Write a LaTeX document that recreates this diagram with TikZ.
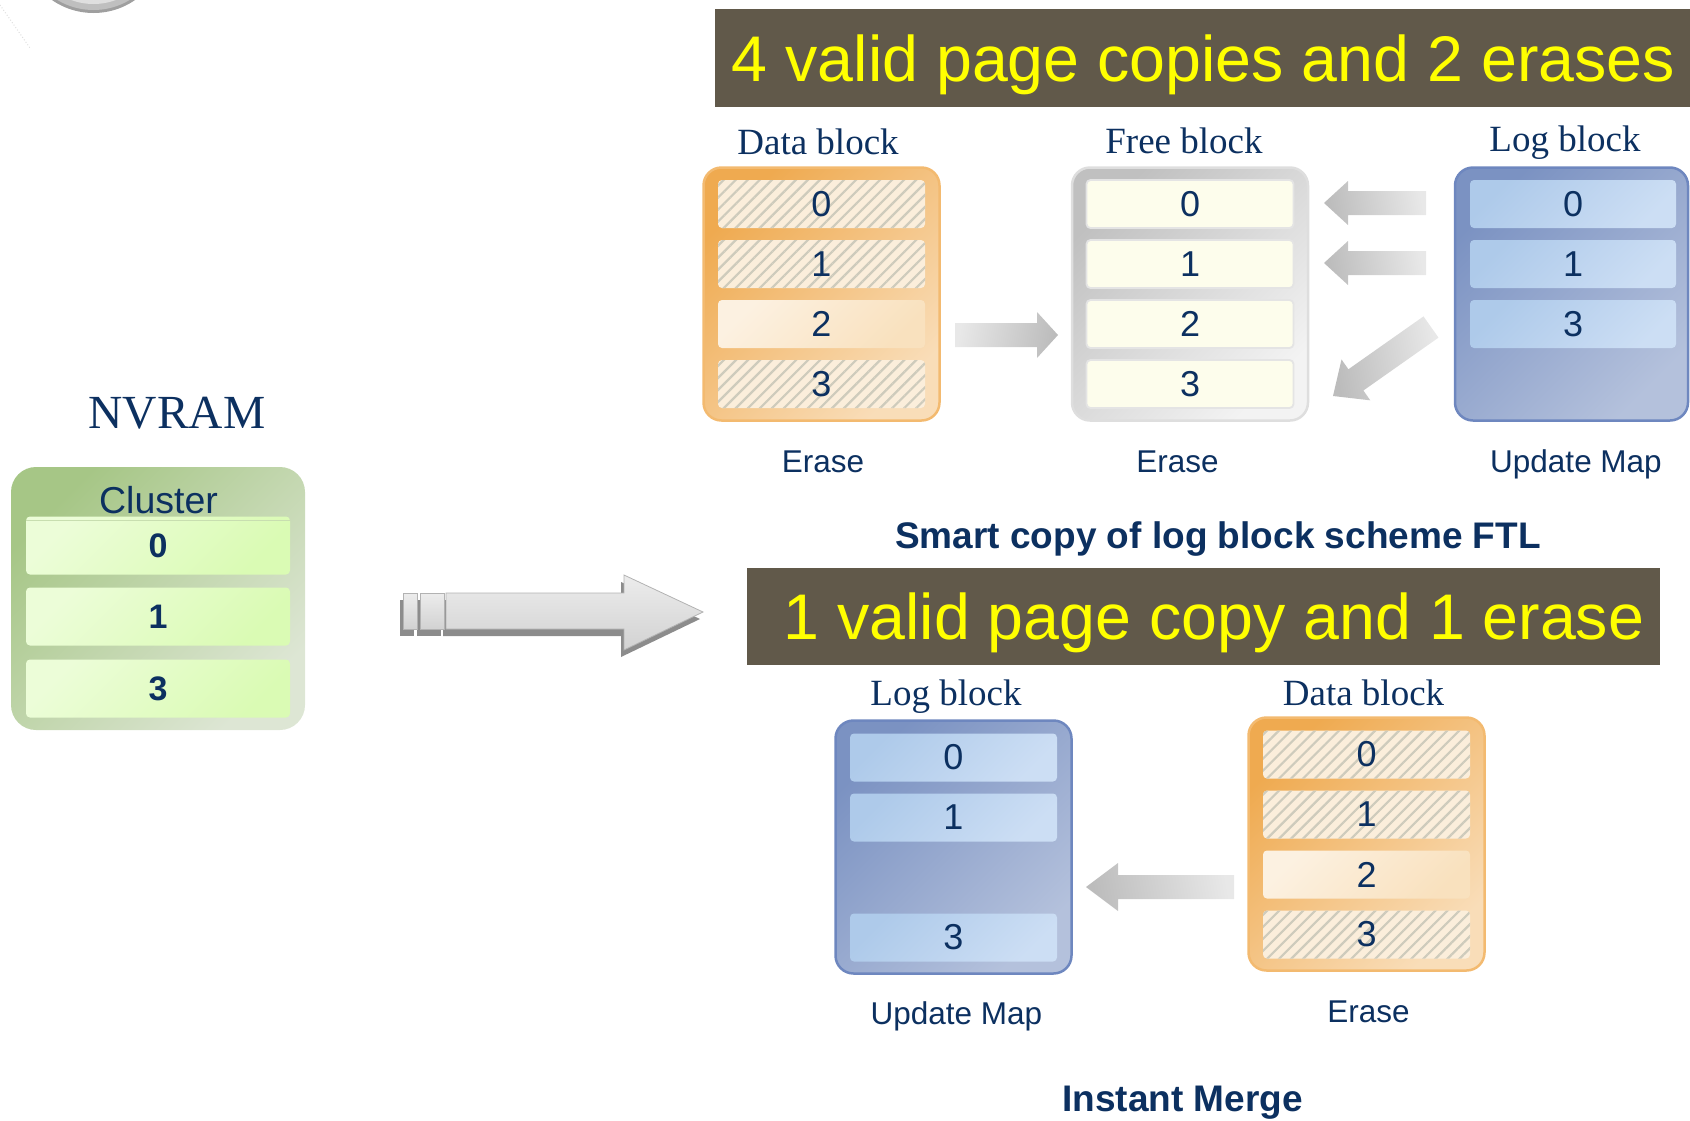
\documentclass[tikz,border=0pt]{standalone}
\usepackage{fontspec}
\setmainfont{Liberation Serif}
\setsansfont{Liberation Sans}
\usetikzlibrary{arrows.meta,patterns.meta,calc}

\newcommand{\fsz}[1]{\fontsize{#1}{#1}\selectfont}

% block arrow from #2 to #3: shading options #1, shaft half width #4,
% head half width #5, head length #6
\newcommand{\flowarrow}[6]{%
  \path ($(#3)!#6!(#2)$) coordinate (#2-base);
  \shade[#1] ($(#2)!#4!90:(#3)$) -- ($(#2-base)!#4!-90:(#2)$)
    -- ($(#2-base)!#5!-90:(#2)$) -- (#3) -- ($(#2-base)!#5!90:(#2)$)
    -- ($(#2-base)!#4!90:(#2)$) -- ($(#2)!#4!-90:(#3)$) -- cycle;
}

\definecolor{navy}{RGB}{12,48,96}
\definecolor{bannerbg}{RGB}{97,89,74}
\definecolor{bannerfg}{RGB}{255,255,0}
\definecolor{orA}{RGB}{239,170,80}
\definecolor{orB}{RGB}{249,221,184}
\definecolor{orEdge}{RGB}{243,186,112}
\definecolor{creamA}{RGB}{252,241,225}
\definecolor{creamB}{RGB}{249,225,190}
\definecolor{hatchbg}{RGB}{251,238,219}
\definecolor{hatch}{RGB}{206,203,188}
\definecolor{grA}{RGB}{192,192,192}
\definecolor{grB}{RGB}{243,243,243}
\definecolor{grEdge}{RGB}{222,222,222}
\definecolor{ivory}{RGB}{253,253,236}
\definecolor{ivEdge}{RGB}{228,228,228}
\definecolor{blA}{RGB}{123,146,194}
\definecolor{blB}{RGB}{180,193,220}
\definecolor{blEdge}{RGB}{110,135,191}
\definecolor{rowblA}{RGB}{174,202,234}
\definecolor{rowblB}{RGB}{204,222,244}
\definecolor{gnA}{RGB}{166,198,134}
\definecolor{gnB}{RGB}{221,230,212}
\definecolor{rowgnA}{RGB}{236,253,216}
\definecolor{rowgnB}{RGB}{218,251,180}
\definecolor{gnLine}{RGB}{200,222,176}
\definecolor{arrowdark}{RGB}{188,188,188}
\definecolor{arrowlight}{RGB}{232,232,232}
\definecolor{faceA}{RGB}{236,236,236}
\definecolor{faceB}{RGB}{210,210,210}
\definecolor{faceEdge}{RGB}{178,178,178}
\definecolor{bevel}{RGB}{140,140,140}

\tikzset{
  serlabel/.style={anchor=base, text=navy, font=\rmfamily\fsz{37}, inner sep=0pt},
  biglabel/.style={anchor=base, text=navy, font=\rmfamily\fsz{47.5}, inner sep=0pt},
  sanslabel/.style={anchor=base, text=navy, font=\sffamily\fsz{31.5}, inner sep=0pt},
  boldtitle/.style={anchor=base, text=navy, font=\sffamily\bfseries\fsz{37}, inner sep=0pt},
  banner/.style={rectangle, fill=bannerbg, inner sep=0pt},
  bannertext/.style={anchor=base, text=bannerfg, font=\sffamily\fsz{64.5}, inner sep=0pt},
  blk/.style={rectangle, rounded corners=18pt, line width=2.5pt,
    minimum width=236pt, minimum height=253pt, inner sep=0pt},
  orblk/.style={blk, draw=orEdge, top color=orA, bottom color=orB, shading angle=45},
  grblk/.style={blk, draw=grEdge, top color=grA, bottom color=grB, shading angle=45},
  blblk/.style={blk, draw=blEdge, top color=blA, bottom color=blB, shading angle=45},
  pagerow/.style={rectangle, rounded corners=4pt, minimum width=207pt,
    minimum height=48pt, inner sep=0pt, text=navy, font=\sffamily\fsz{36}},
  staleRow/.style={pagerow, fill=hatchbg,
    postaction={pattern={Lines[angle=45,distance=8.5pt,line width=2.2pt]}, pattern color=hatch}},
  validrow/.style={pagerow, top color=creamA, bottom color=creamB, shading angle=45},
  freerow/.style={pagerow, fill=ivory, draw=ivEdge, line width=1.8pt},
  logrow/.style={pagerow, top color=rowblA, bottom color=rowblB, shading angle=45},
  clusterbox/.style={rectangle, rounded corners=25pt, minimum width=294pt,
    minimum height=263pt, inner sep=0pt, top color=gnA, bottom color=gnB, shading angle=45},
  clusterrow/.style={rectangle, rounded corners=4pt, minimum width=264pt,
    minimum height=58pt, inner sep=0pt, top color=rowgnA, bottom color=rowgnB,
    shading angle=45, text=navy, font=\sffamily\bfseries\fsz{34}},
  toright/.style={left color=arrowlight, right color=arrowdark, shading angle=80},
  toleft/.style={left color=arrowdark, right color=arrowlight, shading angle=100},
}

\begin{document}
\begin{tikzpicture}[x=1pt,y=-1pt]
\useasboundingbox (0,0) rectangle (1690,1120);
\clip (0,0) rectangle (1690,1120);

% ring fragment and dotted trace in the upper left corner
\fill[gray!75] (93.5,-60) circle (73);
\fill[gray!50] (93.5,-60) circle (70);
\fill[gray!25] (93.5,-60) circle (64);
\fill[gray!6] (93.5,-60) circle (60);
\draw[dotted, line width=1pt, gray!25] (0,5) -- (30,48);

% ---------- upper scheme: log block merge ----------
\node[banner, minimum width=975pt, minimum height=98pt] (ban1) at (1202.5,58) {};
\node[bannertext] (ban1t) at (1203.5,81) {4 valid page copies and 2 erases};

\node[serlabel] (d1lab) at (818,154) {Data block};
\node[serlabel] (f1lab) at (1184,153) {Free block};
\node[serlabel] (l1lab) at (1565,151) {Log block};

\node[orblk] (d1) at (821.5,294) {};
\foreach \i/\st in {0/staleRow,1/staleRow,2/validrow,3/staleRow}
  \node[\st] (d1r\i) at (821.5,204+60*\i) {\i};

\node[grblk] (f1) at (1190,294) {};
\foreach \i in {0,1,2,3}
  \node[freerow] (f1r\i) at (1190,204+60*\i) {\i};

\node[blblk, minimum width=233pt] (l1) at (1571.5,294) {};
\foreach \i/\t in {0/0,1/1,2/3}
  \node[logrow, minimum width=206pt] (l1r\i) at (1573,204+60*\i) {\t};

\node[sanslabel] (e1) at (823,472) {Erase};
\node[sanslabel] (e2) at (1177.5,472) {Erase};
\node[sanslabel] (u1) at (1576,472) {Update Map};

% page copies between the blocks
\coordinate (a1s) at (955,335);  \coordinate (a1e) at (1058,335);
\coordinate (a2s) at (1426,203); \coordinate (a2e) at (1324,203);
\coordinate (a3s) at (1426,263); \coordinate (a3e) at (1324,263);
\coordinate (a4s) at (1431,327); \coordinate (a4e) at (1333,396);
\flowarrow{toright}{a1s}{a1e}{12pt}{23pt}{21pt}
\flowarrow{toleft}{a2s}{a2e}{12pt}{22pt}{24pt}
\flowarrow{toleft}{a3s}{a3e}{12pt}{22pt}{24pt}
\flowarrow{toleft}{a4s}{a4e}{13pt}{25pt}{28pt}

\node[boldtitle] (t1) at (1218,548) {Smart copy of log block scheme FTL};

% ---------- lower scheme: instant merge ----------
\node[banner, minimum width=913pt, minimum height=97pt] (ban2) at (1203.5,616.5) {};
\node[bannertext] (ban2t) at (1214,639) {1 valid page copy and 1 erase};

\node[serlabel] (l2lab) at (946,705) {Log block};
\node[serlabel] (d2lab) at (1363.5,705) {Data block};

\node[blblk] (l2) at (953.5,847) {};
\foreach \i/\t in {0/0,1/1,3/3}
  \node[logrow] (l2r\i) at (953.5,757.5+60*\i) {\t};

\node[orblk] (d2) at (1366.5,844) {};
\foreach \i/\st in {0/staleRow,1/staleRow,2/validrow,3/staleRow}
  \node[\st] (d2r\i) at (1366.5,754.5+60*\i) {\i};

\coordinate (a5s) at (1234,887); \coordinate (a5e) at (1086,887);
\flowarrow{toleft}{a5s}{a5e}{12pt}{24pt}{32pt}

\node[sanslabel] (u2) at (956.5,1024) {Update Map};
\node[sanslabel] (e3) at (1368.5,1022) {Erase};
\node[boldtitle] (t2) at (1182.5,1111) {Instant Merge};

% ---------- NVRAM cluster ----------
\node[biglabel] (nvlab) at (177,428) {NVRAM};
\node[clusterbox] (cl) at (158,598.5) {};
\node[anchor=base, text=navy, font=\sffamily\fsz{37.5}, inner sep=0pt] (cllab) at (158.5,513) {Cluster};
\foreach \i/\y in {0/545.5,1/616.5,3/688.5}
  \node[clusterrow] (c\i) at (158,\y) {\i};
\draw[gnLine, line width=1.2pt] ($(c0.north west)+(0,4.5)$) -- ($(c0.north east)+(0,4.5)$);

% ---------- 3-D transfer arrow ----------
\fill[bevel] (400,600) rectangle (414,636);
\fill[bevel] (417,600) rectangle (441,636);
\fill[bevel] (443,600) -- (621,600) -- (621,582) -- (700,619) -- (621,657)
  -- (621,636) -- (443,636) -- cycle;
\shade[top color=faceA, bottom color=faceB, draw=faceEdge, line width=0.8pt]
  (403,593) rectangle (417,629);
\shade[top color=faceA, bottom color=faceB, draw=faceEdge, line width=0.8pt]
  (420,593) rectangle (444,629);
\shade[top color=faceA, bottom color=faceB, draw=faceEdge, line width=0.8pt]
  (446,593) -- (624,593) -- (624,575) -- (703,612) -- (624,650)
  -- (624,629) -- (446,629) -- cycle;
\end{tikzpicture}
\end{document}
